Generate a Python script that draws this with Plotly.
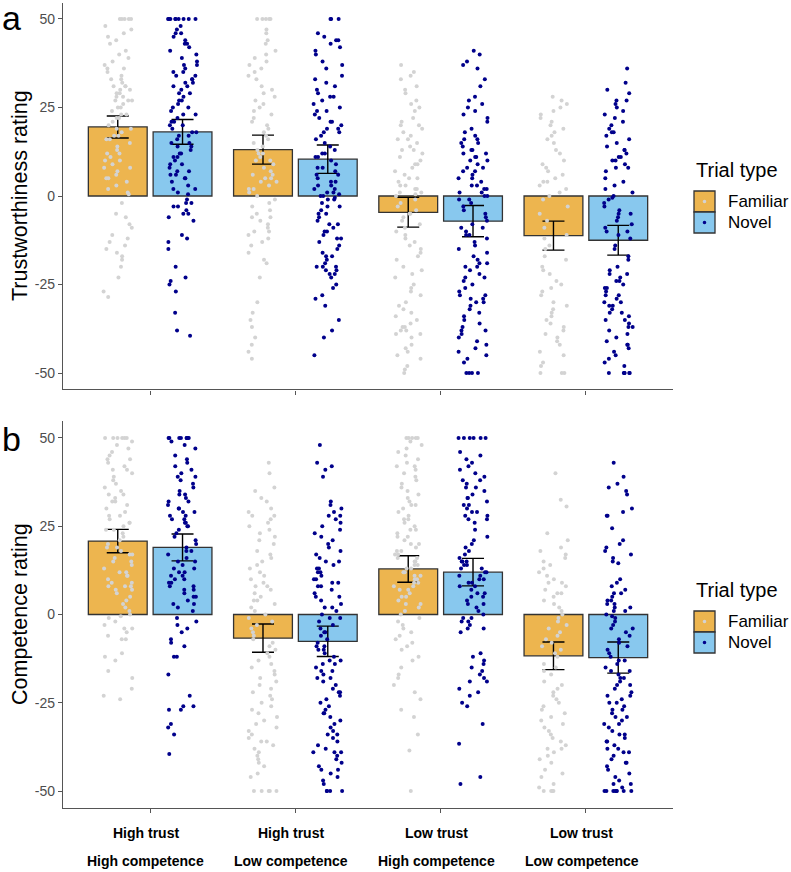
import plotly.graph_objects as go

# ---------------- data ----------------
categories = ["High trust|High competence", "High trust|Low competence",
              "Low trust|High competence", "Low trust|Low competence"]
trial_types = ["Familiar", "Novel"]
y_ticks = [-50, -25, 0, 25, 50]
y_tick_labels = ["-50", "-25", "0", "25", "50"]

trust_fam_mean = [19.5, 13.1, -4.6, -11.2]
trust_fam_se = [3.1, 4.1, 4.2, 4.1]
trust_nov_mean = [18.1, 10.4, -7.1, -12.5]
trust_nov_se = [3.5, 4.0, 4.4, 4.2]

comp_fam_mean = [20.8, -6.7, 12.9, -11.7]
comp_fam_se = [3.3, 4.0, 3.75, 3.9]
comp_nov_mean = [19.0, -7.6, 12.0, -12.2]
comp_nov_se = [3.8, 4.3, 3.9, 4.4]

trust_fam_pts = [
    [50,50,50,50,50,48,47,46,45,44,43,41,40,39,38,37,36,36,35,34,33,33,32,31,31,
     31,30,30,29,29,28,28,27,27,27,26,25,25,24,23,23,22,22,21,20,19,19,18,17,17,16,
     16,15,14,13,12,12,11,10,10,9,8,8,7,6,5,5,4,3,2,1,0.5,-2,-5,-6,-8,-9,-11,
     -12,-13,-14,-15,-16,-17,-18,-20,-23,-27,-28.5],
    [50,50,50,50,50,47,46,44,43,41,40,39,38,37,36,35,34,33,31,30,29,28,27,26,25,24,
     23,22,21,20,19,18,17,16,15,14,13,12,12,11,10,10,9,8,7,6,6,5,5,4,4,3,2,2,1,0,
     -1,-2,-3,-4,-5,-6,-6,-7,-8,-9,-10,-10,-11,-12,-13,-14,-16,-18,-19,-23,
     -30,-33,-35,-37,-40,-42,-44,-46],
    [37,35,34,33,31,30,29,27,26,25,24,22,21,20,20,19,18,17,16,16,15,14,13,13,12,
     11,10,9,9,8,7,6,5,5,4,3,3,2,2,1,1,0.5,0,-1,-2,-3,-4,-5,-5,-6,-7,-8,-9,-10,-11,
     -12,-13,-14,-15,-16,-17,-18,-20,-21,-22,-23,-25,-26,-27,-28,-30,
     -31,-32,-33,-34,-35,-36,-37,-37,-38,-38,-39,-39,-40,-42,-43,-44,-45,-46,-48,-49,-50],
    [28,27,26,25,24,23,22,21,20,19,18,17,16,15,13,12,10,9,8,7,6,5,4,4,3,2,1,0,
     -1,-3,-5,-7,-9,-11,-12,-14,-15,-17,-18,-20,-21,-22,-24,-25,-26,-27,-28,-30,
     -31,-32,-33,-34,-35,-36,-37,-38,-39,-40,-41,-42,-44,-45,-47,-48,-50,-50,-50],
]
trust_nov_pts = [
    [50,50,50,50,50,50,50,50,50,48,47,46,46,45,44,43,43,42,41,40,39,38,37,37,36,
     35,35,34,34,33,33,32,32,31,31,30,29,29,28,27,27,26,25,25,24,
     23,23,22,21,21,20,20,19,18,18,17,17,16,15,15,14,14,13,12,12,
     11,11,10,9,9,8,7,7,6,6,5,5,4,3,2,2,1,0.5,-1,-2,-2,-3,-3,-4,-5,-5,-6,-7,
     -11,-12,-13,-15,-20,-23,-24,-25,-27,-33,-38,-39.5],
    [50,50,50,46,45,44,44,43,42,41,40,38,37,36,34,33,32,31,30,29,28,28,27,26,25,24,
     24,23,22,21,21,20,19,19,18,18,17,16,15,14,13,12,12,11,11,10,9,8,8,7,6,6,5,4,
     4,3,3,2,2,1,1,0.5,0,0,-0.5,-1,-1,-2,-3,-3,-4,-5,-5,-6,-7,-8,-8,-9,-10,-10,-11,-12,
     -12,-13,-14,-15,-16,-17,-17,-18,-19,-20,-20,-20,-21,-21,-22,-22,-23,
     -25,-26,-28,-29,-31,-35,-38,-40,-45],
    [41,40,38,37,36,33,31,28,27,26,25,24,23,22,21,19,18,17,16,16,15,15,14,13,13,12,
     12,11,11,10,10,9,8,8,7,7,6,5,5,4,3,3,2,2,1,1,0,0,-1,-1,-2,-3,-4,-5,-6,-7,-8,
     -9,-9,-10,-11,-11,-12,-13,-14,-15,-16,-17,-18,-19,-19,-20,-20,
     -21,-22,-23,-23,-24,-25,-26,-27,-28,-28,-29,-29,-30,-30,
     -31,-32,-33,-34,-35,-36,-37,-38,-38,-39,-40,-41,-42,-43,-44,-45,-46,-47,
     -50,-50,-50,-50],
    [36,32,30,29,27,27,26,25,24,23,22,21,20,19,18,18,17,16,15,14,13,13,12,11,11,
     10,10,9,8,8,7,5,4,3,2,1,0,-0.5,-1,-2,-3,-4,-5,-5,-6,-7,-8,-9,-10,-10,-11,
     -12,-14,-15,-17,-18,-20,-21,-22,-22,-23,-24,-24,-25,-26,-26,-27,-28,-28,-29,-30,
     -30,-31,-31,-32,-33,-33,-34,-35,-35,-36,-37,-37,-38,-39,
     -40,-41,-42,-42,-43,-44,-45,-46,-47,-48,-50,-50,-50,-50,-50,-50],
]
comp_fam_pts = [
    [50,50,50,50,50,50,49,48,47,46,45,44,44,43,42,41,41,40,39,38,37,36,35,34,34,33,
     32,32,31,30,29,28,28,27,26,26,25,24,24,23,22,21,20,19,19,18,17,17,16,15,
     15,14,13,12,12,11,11,10,9,9,8,8,8,7,7,6,5,4,3,2,1,0,
     -0.5,-1,-2,-3,-4,-4,-5,-6,-7,-7,-11,-12,-13,-16,-18,-21,-23,-24],
    [43,40,36,35,33,32,30,29,28,28,27,26,25,24,23,22,21,20,18,17,16,15,14,13,12,11,
     10,9,8,8,7,6,5,4,4,3,2,1,0,-1,-2,-3,-4,-5,-6,-7,-8,-9,-10,
     -11,-12,-13,-14,-15,-16,-17,-18,-19,-20,-21,-22,-23,-24,-25,-26,-27,-28,-29,-30,
     -31,-32,-33,-34,-35,-36,-36,-37,-38,-39,-40,-41,-42,-43,-45,-46,
     -50,-50,-50,-50,-50],
    [50,50,50,50,50,49,48,47,46,45,44,43,42,42,41,40,39,38,37,36,35,34,33,32,31,
     31,30,29,28,27,27,26,25,24,24,23,22,22,21,20,20,19,18,18,17,17,16,16,15,
     15,14,14,13,13,12,12,11,11,10,10,9,9,8,8,7,7,6,5,5,4,3,3,2,1,0,
     -1,-2,-3,-4,-5,-6,-7,-8,-9,-10,-12,-13,-15,-17,-18,-20,
     -22,-24,-27,-29,-34,-38.5,-50],
    [40,32.5,30.6,23,21,19,18,17,16,15,14,13,12,11,10,9,9,8,7,6,6,5,4,3,2,1,0,
     -1,-2,-3,-4,-5,-6,-7,-8,-9,-10,-11,-12,-14,-15,-16,-17,-19,-20,
     -21,-22,-23,-24,-25,-26,-27,-28,-29,-30,-31,-32,-33,-34,-35,-36,-37,-38,-38,-39,
     -40,-41,-42,-44,-45,-46,-48,-49,-50,-50,-50,-50],
]
comp_nov_pts = [
    [50,50,50,50,50,50,50,50,49,48,47,45,44,43,42,41,40,39,39,38,37,36,35,34,34,33,
     32,32,31,30,30,29,29,28,28,27,27,26,26,25,25,24,23,22,21,20,19,18,18,17,16,15,
     15,14,13,13,12,12,11,11,10,10,9,9,8,8,7,7,6,5,5,4,3,3,2,1,
     -1,-2,-3,-4,-5,-7,-8,-9,-12,-12,-17,-23,-26,-26,-27,-27,-31,-32,-34,-39.5],
    [48,43,42,41,39,32,31,30,29,28,28,27,26,25,24,23,22,21,20,19,18,17,16,15,15,
     14,13,13,12,12,11,10,10,9,9,8,8,7,6,5,5,4,3,2,2,1,0,
     -1,-1,-2,-3,-4,-5,-5,-6,-7,-8,-9,-9,-10,-10,
     -11,-12,-13,-13,-14,-14,-15,-16,-16,-17,-18,-18,-19,-20,
     -21,-22,-22,-23,-24,-25,-26,-27,-28,-28,-29,-30,
     -31,-32,-33,-34,-34,-35,-36,-37,-38,-39,-39,-39,
     -40,-41,-42,-43,-44,-44,-45,-46,-47,-48,-50,-50,-50,-50],
    [50,50,50,50,50,50,46,45,44,43,42,41,40,39,38,38,37,36,36,35,34,33,33,32,31,31,
     30,29,29,28,28,27,27,26,24,22,21,20,19,18,17,16,15,15,15,14,14,13,13,12,12,
     11,11,10,10,9,9,8,8,7,6,6,5,5,4,3,3,2,1,0,-1,-1,-2,-2,-3,-4,-4,-5,
     -11,-12,-13,-14,-15,-16,-17,-18,-19,-19,-21,-22,-23,-25,-26,-31,-36.6,-46,-48],
    [43,39,37,36,35,34,30,29,28,28,24.4,21,20,19,18,17,16,15,14.5,10,9,8,7,6,6,5,4,
     4,3,3,2,2,1,1,0,-0.5,-1,-2,-3,-4,-4,-5,-6,-7,-8,-9,-10,
     -11,-12,-13,-13,-14,-15,-16,-16,-17,-18,-18,-19,-20,-20,
     -21,-22,-23,-23,-24,-25,-25,-26,-27,-27,-28,-29,-29,-30,
     -31,-31,-32,-33,-34,-34,-35,-36,-36,-37,-38,-38,-39,-39,
     -40,-41,-42,-42,-43,-44,-45,-46,-47,-48,-48,-49,
     -50,-50,-50,-50,-50,-50,-50,-50],
]

# ---------------- style ----------------
FONT = "Liberation Sans, Arial, sans-serif"
BAR_COLORS = {"Familiar": "#EDB54F", "Novel": "#88C8EE"}
PT_COLORS = {"Familiar": "#D3D3D3", "Novel": "#00008B"}
DODGE = 0.223
BAR_W = 0.405
JIT = 0.1
W, H = 791, 872


def px_x(p):
    return p / W


def px_y(p):
    return (H - p) / H


def _mix(k, s):
    # deterministic integer hash -> [0, 1) (used only for horizontal spread)
    x = (k * 0x9E3779B1 + s * 0x85EBCA77 + 0x165667B1) & 0xFFFFFFFF
    x ^= x >> 15
    x = (x * 0x2C1B3C6D) & 0xFFFFFFFF
    x ^= x >> 12
    x = (x * 0x297A2D39) & 0xFFFFFFFF
    x ^= x >> 15
    return x / 4294967296.0


def jitter(n, seed):
    return [JIT * (2 * _mix(k, seed) - 1) for k in range(n)]


fig = go.Figure()

panels = [
    ("x", "y", trust_fam_mean, trust_fam_se, trust_nov_mean, trust_nov_se,
     trust_fam_pts, trust_nov_pts),
    ("x2", "y2", comp_fam_mean, comp_fam_se, comp_nov_mean, comp_nov_se,
     comp_fam_pts, comp_nov_pts),
]
cat_pos = list(range(1, len(categories) + 1))

for pi, (xa, ya, fm, fs, nm, ns, fp, npts) in enumerate(panels):
    for tt, means, ses, off in (("Familiar", fm, fs, -DODGE), ("Novel", nm, ns, DODGE)):
        fig.add_trace(go.Bar(
            x=[c + off for c in cat_pos], y=means, width=BAR_W,
            marker=dict(color=BAR_COLORS[tt], line=dict(color="#333333", width=1.3)),
            error_y=dict(type="data", array=ses, visible=True, color="black",
                         thickness=1.4, width=11),
            xaxis=xa, yaxis=ya, showlegend=False, hoverinfo="skip"))
    for ti, (tt, pts, off) in enumerate((("Familiar", fp, -DODGE), ("Novel", npts, DODGE))):
        xs, ys = [], []
        for ci, vals in enumerate(pts):
            jj = jitter(len(vals), 100 * pi + 10 * ti + ci + 1)
            xs += [cat_pos[ci] + off + j for j in jj]
            ys += vals
        fig.add_trace(go.Scatter(
            x=xs, y=ys, mode="markers",
            marker=dict(color=PT_COLORS[tt], size=4, line=dict(width=0)),
            xaxis=xa, yaxis=ya, showlegend=False, hoverinfo="skip"))

axis_common = dict(showline=True, linecolor="#555555", linewidth=1.4,
                   ticks="outside", tickcolor="#555555", ticklen=4, tickwidth=1.2,
                   showgrid=False, zeroline=False)

xdom = [px_x(63), px_x(673)]
fig.update_layout(
    width=W, height=H, margin=dict(l=0, r=0, t=0, b=0),
    paper_bgcolor="white", plot_bgcolor="white", barmode="overlay",
    font=dict(family=FONT),
    xaxis=dict(domain=xdom, range=[0.4, 4.6], tickvals=cat_pos, showticklabels=False,
               anchor="y", **axis_common),
    yaxis=dict(domain=[px_y(389.3), px_y(2.7)], range=[-54.6, 54.6], tickvals=y_ticks,
               ticktext=y_tick_labels,
               tickfont=dict(size=14, color="#4D4D4D", family=FONT), anchor="x",
               **axis_common),
    xaxis2=dict(domain=xdom, range=[0.4, 4.6], tickvals=cat_pos, showticklabels=False,
                anchor="y2", **axis_common),
    yaxis2=dict(domain=[px_y(808), px_y(421)], range=[-54.8, 54.8], tickvals=y_ticks,
                ticktext=y_tick_labels,
                tickfont=dict(size=14, color="#4D4D4D", family=FONT), anchor="x2",
                **axis_common),
)

ann = []
for title, yc in (("Trustworthiness rating", 196), ("Competence rating", 614)):
    ann.append(dict(text=title, x=px_x(20), y=px_y(yc), xref="paper", yref="paper",
                    xanchor="center", yanchor="middle", textangle=-90, showarrow=False,
                    font=dict(size=21.5, color="black", family=FONT)))
for lab, yc in (("a", 18), ("b", 439)):
    ann.append(dict(text=lab, x=px_x(11), y=px_y(yc), xref="paper", yref="paper",
                    xanchor="center", yanchor="middle", showarrow=False,
                    font=dict(size=34, color="black", family=FONT)))
for c, lab in zip(cat_pos, categories):
    l1, l2 = lab.split("|")
    for txt, yc in ((l1, 833), (l2, 861)):
        ann.append(dict(text="<b>" + txt + "</b>", x=c - 0.03, y=px_y(yc), xref="x2",
                        yref="paper", xanchor="center", yanchor="middle", showarrow=False,
                        font=dict(size=14, color="black", family=FONT)))

shapes = []
for dy in (0, 420):
    ann.append(dict(text="Trial type", x=px_x(694), y=px_y(170 + dy), xref="paper",
                    yref="paper", xanchor="left", yanchor="middle", showarrow=False,
                    font=dict(size=20, color="black", family=FONT)))
    for k, tt in enumerate(trial_types):
        y0 = 191 + dy + 21 * k
        shapes.append(dict(type="rect", xref="paper", yref="paper",
                           x0=px_x(694), x1=px_x(715), y0=px_y(y0), y1=px_y(y0 + 21),
                           fillcolor=BAR_COLORS[tt], line=dict(color="#333333", width=1.3)))
        cx, cy = 704.5, y0 + 10.5
        shapes.append(dict(type="circle", xref="paper", yref="paper",
                           x0=px_x(cx - 1.8), x1=px_x(cx + 1.8),
                           y0=px_y(cy + 1.8), y1=px_y(cy - 1.8),
                           fillcolor=PT_COLORS[tt], line=dict(width=0)))
        ann.append(dict(text=tt, x=px_x(726), y=px_y(y0 + 10.5), xref="paper",
                        yref="paper", xanchor="left", yanchor="middle", showarrow=False,
                        font=dict(size=17, color="black", family=FONT)))

fig.update_layout(annotations=ann, shapes=shapes)
fig.write_html("out.html", config={"displayModeBar": False},
               post_script="document.body.style.margin='0px';"
                           "document.body.style.overflow='hidden';")
